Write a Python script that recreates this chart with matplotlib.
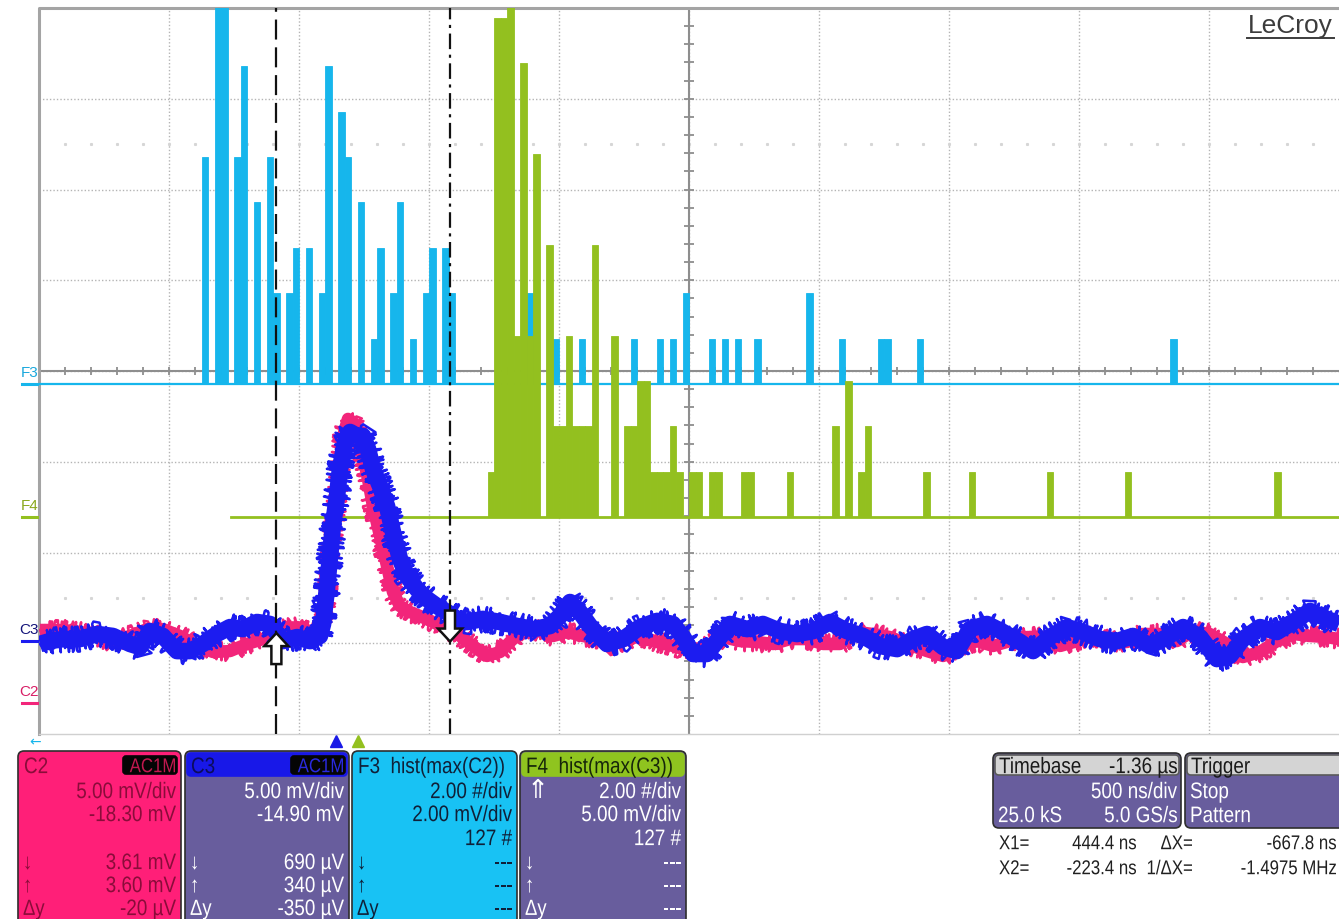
import matplotlib
matplotlib.use('Agg')
import matplotlib.pyplot as plt
from matplotlib.patches import FancyBboxPatch, PathPatch, Polygon
from matplotlib.textpath import TextPath
from matplotlib.font_manager import FontProperties
from matplotlib.transforms import Affine2D
import numpy as np

plt.rcParams['font.family'] = ['Liberation Sans', 'DejaVu Sans']

# scope settings
ns_per_div = 500.0
t_left = -1136.4                    # ns at the left edge of the grid
c2_scale, c2_offset = 5.0, -18.30   # mV/div, mV
c3_scale, c3_offset = 5.0, -14.90
f3_vscale, f3_hscale, f3_bin = 2.0, 2.0, 0.10   # #/div, mV/div, mV
f4_vscale, f4_hscale, f4_bin = 2.0, 5.0, 0.25
cursor_x1 = 444.4    # ns
cursor_x2 = -223.4   # ns

# C2 trace (pink)
c2_t = [-1133, -1044, -979, -913, -852, -786, -721, -660, -594, -529, -467, -402, -336, -275,
        -209, -144, -83, -56, -44, -29, -6, 10, 21, 33, 52, 71, 91, 110, 129, 148, 175, 202,
        225, 252, 291, 329, 379, 433, 483, 533, 587, 637, 675, 714, 764, 841, 894, 956, 1021,
        1048, 1110, 1175, 1241, 1302, 1367, 1433, 1494, 1560, 1625, 1687, 1752, 1817, 1879,
        1944, 2010, 2071, 2137, 2202, 2279, 2341, 2406, 2471, 2533, 2598, 2664, 2725, 2791,
        2856, 2917, 2983, 3048, 3110, 3175, 3240, 3302, 3367, 3433, 3494, 3560, 3625, 3687,
        3752, 3817, 3864]
c2_mv = [4.03, 4.03, 3.92, 3.70, 3.37, 3.70, 4.08, 4.08, 3.70, 3.15, 2.82, 2.87, 3.26, 3.53,
         4.08, 4.19, 3.92, 4.08, 4.36, 5.74, 9.43, 11.25, 13.07, 14.72, 15.66, 15.49, 14.94,
         13.62, 12.35, 10.86, 9.21, 7.56, 6.12, 5.35, 5.02, 4.80, 4.47, 4.08, 3.70, 3.15, 2.60,
         2.82, 3.37, 3.92, 4.08, 3.70, 3.92, 3.70, 3.53, 3.15, 3.42, 3.70, 3.37, 3.15, 2.87,
         3.15, 3.64, 3.42, 3.37, 3.26, 3.53, 3.53, 3.26, 3.26, 3.92, 3.81, 3.64, 3.26, 2.87,
         2.60, 3.15, 3.42, 3.15, 3.42, 3.64, 3.64, 3.15, 3.42, 3.70, 3.42, 3.37, 3.81, 3.81,
         3.42, 3.97, 3.81, 3.26, 2.54, 2.82, 3.42, 3.81, 3.70, 3.64, 3.53]

# C3 trace (blue)
c3_t = [-1133, -1094, -1044, -979, -913, -852, -786, -748, -710, -660, -606, -556, -506, -452,
        -402, -352, -298, -248, -198, -144, -94, -56, -44, -29, -17, -6, 10, 21, 41, 60, 87,
        110, 129, 148, 175, 202, 225, 252, 279, 317, 356, 394, 433, 471, 510, 571, 637, 702,
        764, 829, 867, 906, 944, 983, 1048, 1110, 1175, 1241, 1302, 1341, 1379, 1433, 1471,
        1521, 1587, 1648, 1714, 1779, 1841, 1906, 1971, 2033, 2098, 2164, 2225, 2279, 2341,
        2394, 2444, 2510, 2571, 2637, 2687, 2752, 2817, 2879, 2944, 3010, 3071, 3137, 3202,
        3264, 3329, 3394, 3444, 3494, 3560, 3625, 3687, 3752, 3817, 3864]
c3_mv = [-0.14, 0.02, 0.13, 0.13, 0.41, 0.30, -0.14, -0.31, 0.57, 0.30, -0.53, -0.53, -0.14,
         0.41, 0.79, 0.68, 1.07, 0.96, 0.02, 0.24, 0.02, 0.30, 0.96, 2.89, 4.71, 6.36, 8.01,
         9.50, 10.99, 11.54, 11.32, 11.32, 10.60, 9.50, 8.56, 7.46, 6.03, 4.54, 3.60, 2.89,
         2.34, 1.95, 1.62, 1.24, 1.07, 1.24, 1.07, 0.85, 0.68, 0.85, 1.40, 2.17, 1.62, 0.85,
         -0.14, 0.13, 0.79, 1.13, 0.96, 0.24, -0.69, -0.69, 0.02, 0.96, 0.68, 0.96, 0.57, 0.41,
         0.57, 1.07, 0.57, 0.30, -0.25, -0.42, 0.13, 0.41, -0.31, -0.53, 0.68, 0.96, 0.52,
         -0.03, -0.53, 0.24, 0.79, 0.52, 0.13, 0.02, 0.30, -0.25, 0.24, 0.79, 0.24, -0.97,
         -0.80, 0.13, 0.79, 0.52, 1.07, 1.68, 1.24, 0.96]

# F3 = hist(max(C2)): bin left edge (mV) and count
f3_bins = [2.5, 2.7, 2.8, 3.0, 3.1, 3.3, 3.5, 3.6, 3.8, 3.9, 4.1, 4.3, 4.4, 4.6, 4.7, 4.9, 5.1,
           5.2, 5.4, 5.5, 5.7, 5.9, 6.0, 6.2, 6.3, 7.5, 7.9, 8.3, 9.1, 9.5, 9.7, 9.9, 10.3,
           10.5, 10.7, 11.0, 11.8, 12.3, 12.9, 13.0, 13.5, 17.4]
f3_counts = [5, 13, 13, 5, 7, 4, 5, 2, 2, 3, 3, 2, 7, 6, 5, 4, 1, 3, 2, 4, 1, 2, 3, 3, 2,
             2, 1, 1, 1, 1, 1, 2, 1, 1, 1, 1, 2, 1, 1, 1, 1, 1]

# F4 = hist(max(C3))
f4_bins = [17.25, 17.5, 17.75, 18.0, 18.25, 18.5, 18.75, 19.0, 19.5, 19.75, 20.0, 20.25, 20.5,
           20.75, 21.0, 21.25, 22.0, 22.5, 22.75, 23.0, 23.25, 23.5, 23.75, 24.0, 24.25, 24.5,
           25.0, 25.25, 25.75, 26.0, 27.0, 27.25, 28.75, 30.5, 31.0, 31.5, 31.75, 34.0, 35.75,
           38.75, 41.75, 47.5]
f4_counts = [1, 11, 11, 12, 4, 10, 4, 8, 6, 2, 2, 4, 2, 2, 2, 6, 4, 2, 2, 3, 3, 1, 1, 1, 2, 1,
             1, 1, 1, 1, 1, 1, 1, 2, 3, 1, 2, 1, 1, 1, 1, 1]
f4_start_mv = 7.4

# where the histogram traces sit on screen (divisions from the bottom)
f3_pos = 3.857
f4_pos = 2.391

pink = '#f2257a'
blue = '#1c1cf0'
cyan = '#16b6ec'
green = '#93c01f'
slate = '#685d9d'

fig = plt.figure(figsize=(13.39, 9.2), dpi=100)
ov = fig.add_axes([0, 0, 1, 1])
ov.set_xlim(0, 1339)
ov.set_ylim(920, 0)
ov.axis('off')

ax = fig.add_axes([39 / 1339, 185 / 920, 1300 / 1339, 726 / 920])
ax.set_xlim(0, 10)
ax.set_ylim(0, 8)
ax.axis('off')
ax.patch.set_alpha(0)
px_x, px_y = 130.0, 90.75   # pixels per division

# graticule
grid_c = '#b4b4b4'
for i in range(1, 10):
    ax.axvline(i, color=grid_c, lw=1, ls=(0, (1, 1.5)), zorder=1)
for j in range(1, 8):
    ax.axhline(j, color=grid_c, lw=1, ls=(0, (1, 1.5)), zorder=1)
dots = np.arange(0.2, 10, 0.2)
for yy in (6.5, 1.5):
    ax.plot(dots, np.full_like(dots, yy), ls='none', marker='s', ms=1.2, color='#d6d6d6', zorder=1)
axis_c = '#8e8e8e'
ax.axvline(5, color=axis_c, lw=1.5, zorder=1.5)
ax.axhline(4, color=axis_c, lw=1.5, zorder=1.5)
ax.vlines(dots, 4 - 0.045, 4 + 0.045, color=axis_c, lw=1.3, zorder=1.5)
ticks_y = np.arange(0.2, 8, 0.2)
ax.hlines(ticks_y, 5 - 0.035, 5 + 0.035, color=axis_c, lw=1.3, zorder=1.5)
ax.plot([0, 0, 10], [0, 8, 8], color='#a4a4a4', lw=2.2, zorder=1.6, clip_on=False)
ax.plot([0, 10], [0, 0], color='#d0d0d0', lw=1, zorder=1.6, clip_on=False)

# histograms
def hist_bars(bins, counts, width, hscale, vscale, pos, color, z):
    x = np.asarray(bins) / hscale
    h = np.asarray(counts) / vscale
    ax.bar(x, h, width=width / hscale, bottom=pos, align='edge', color=color,
           edgecolor=color, lw=0.6, zorder=z)

hist_bars(f3_bins, f3_counts, f3_bin, f3_hscale, f3_vscale, f3_pos, cyan, 2)
ax.axhline(f3_pos, color=cyan, lw=1.6, zorder=2)
hist_bars(f4_bins, f4_counts, f4_bin, f4_hscale, f4_vscale, f4_pos, green, 3)
ax.plot([f4_start_mv / f4_hscale, 10], [f4_pos, f4_pos], color=green, lw=2, zorder=3)

# waveforms
def screen_xy(t, mv, scale, offset):
    x = (np.asarray(t) - t_left) / ns_per_div
    y = 4 + (np.asarray(mv) + offset) / scale
    return x, y

x2, y2 = screen_xy(c2_t, c2_mv, c2_scale, c2_offset)
x3, y3 = screen_xy(c3_t, c3_mv, c3_scale, c3_offset)

for x, y, col, core, hair, z in [(x2, y2, pink, 9, 10, 4), (x3, y3, blue, 12, 13, 5)]:
    ax.plot(x, y, color=col, lw=core, solid_joinstyle='round', solid_capstyle='butt', zorder=z)
    ln, = ax.plot(x, y, color=col, lw=1.8, zorder=z)
    ln.set_sketch_params(scale=hair, length=2.5, randomness=12)

# cursors
cx1 = (cursor_x1 - t_left) / ns_per_div
cx2 = (cursor_x2 - t_left) / ns_per_div
ax.axvline(cx2, color='#111111', lw=1.6, ls=(0, (9, 3.5)), zorder=7)
ax.axvline(cx1, color='#111111', lw=1.6, ls=(0, (7, 2.5, 1.4, 2.5)), zorder=7)

def cursor_arrow(xc, ytip, up):
    shape = [(0, 0), (12, 13), (5, 13), (5, 31), (-5, 31), (-5, 13), (-12, 13)]
    sgn = -1 if up else 1
    pts = [(xc + dx / px_x, ytip + sgn * dy / px_y) for dx, dy in shape]
    ax.add_patch(Polygon(pts, closed=True, fc='white', ec='#111111', lw=1.8, zorder=8))

cursor_arrow(cx2, np.interp(cx2, x2, y2) - 0.02, up=True)
cursor_arrow(cx1, np.interp(cx1, x2, y2) - 0.12, up=False)

# channel markers at the left edge
markers = [('F3', f3_pos, cyan, '#1aa8dc'),
           ('F4', f4_pos, green, '#8aa81c'),
           ('C3', 4 + c3_offset / c3_scale, blue, '#14147a'),
           ('C2', 4 + c2_offset / c2_scale, pink, '#d81e66')]
for name, yy, col, tcol in markers:
    ax.plot([-0.13, -0.012], [yy, yy], color=col, lw=2.2, clip_on=False, zorder=3)
    ax.text(-0.075, yy + 0.06, name, ha='center', va='bottom', fontsize=11, color=tcol,
            clip_on=False)

ov.text(1290, 26, 'LeCroy', ha='center', va='center', fontsize=19, color='#3c3c3c')
ov.plot([1247, 1334], [39, 39], color='#3c3c3c', lw=1.4)

ov.text(35, 742, '\u2190', ha='center', va='center', fontsize=10, color=cyan,
        family='DejaVu Sans')
ov.plot([336], [742], marker='^', ms=8, color='#1a1ae6', ls='none')
ov.plot([358], [742], marker='^', ms=8, color=green, ls='none')

# narrow text like the scope's panel font (Liberation Sans squeezed horizontally)
panel_font = FontProperties(family='Liberation Sans')

def ntext(x, y, s, color, ha='left', size=22.5, squeeze=0.84, z=3):
    tp = TextPath((0, 0), s, size=size, prop=panel_font)
    ext = tp.get_extents()
    if ha == 'right':
        x0 = x - ext.x1 * squeeze
    elif ha == 'center':
        x0 = x - (ext.x0 + ext.x1) / 2 * squeeze
    else:
        x0 = x
    tr = Affine2D().scale(squeeze, -1).translate(x0, y + 0.36 * size)
    ov.add_patch(PathPatch(tr.transform_path(tp), fc=color, ec='none', lw=0, zorder=z))

# info panels
def box(x0, y0, x1, y1, fc, ec='#2e2e2e', r=6, lw=1.2, z=1):
    ov.add_patch(FancyBboxPatch((x0, y0), x1 - x0, y1 - y0,
                                boxstyle=f'round,pad=0,rounding_size={r}',
                                fc=fc, ec=ec, lw=lw, zorder=z))

rows = [791, 814, 838, 862, 885, 908]

def channel_panel(x0, x1, face, head_face, head_text, head_col, txt_col, values, ac=None):
    box(x0, 752, x1, 935, face)
    if head_face is not None:
        box(x0 + 2, 754, x1 - 2, 777, head_face, ec=head_face, r=4, z=2)
    ntext(x0 + 6, 766, head_text, head_col)
    if ac is not None:
        box(x1 - 58, 757, x1 - 4, 775, '#050505', ec='#050505', r=3, z=3)
        ntext(x1 - 6, 766, 'AC1M', ac, ha='right', size=20, z=4)
    for yy, v in zip(rows, values):
        if v:
            ntext(x1 - 5, yy, v, txt_col, ha='right')
    for yy, s in zip(rows[3:], ['\u2193', '\u2191', '\u0394y']):
        ntext(x0 + 5, yy, s, txt_col, size=22)

channel_panel(18, 181, '#ff1f78', None, 'C2', '#8a0c3a', '#8a0c3a',
              ['5.00 mV/div', '-18.30 mV', '', '3.61 mV', '3.60 mV', '-20 \u00b5V'], ac='#c2184f')
channel_panel(185, 349, slate, '#1818e8', 'C3', '#0c0c5c', 'white',
              ['5.00 mV/div', '-14.90 mV', '', '690 \u00b5V', '340 \u00b5V', '-350 \u00b5V'], ac='#2a2ae0')
channel_panel(352, 517, '#18c2f4', None, 'F3  hist(max(C2))', '#102038', '#102038',
              ['2.00 #/div', '2.00 mV/div', '127 #', '---', '---', '---'])
channel_panel(520, 686, slate, '#8fc41f', 'F4  hist(max(C3))', '#16260a', 'white',
              ['2.00 #/div', '5.00 mV/div', '127 #', '---', '---', '---'])
ov.text(527, 791, '\u21d1', ha='left', va='center', fontsize=19, color='white',
        family='DejaVu Sans', zorder=3)

# timebase / trigger
box(993, 754, 1181, 829, slate)
box(995, 756, 1179, 776, '#d4d4d4', ec='#5a5a5a', r=4, z=2)
ntext(999, 766, 'Timebase', '#1a1a1a')
ntext(1177, 766, '-1.36 \u00b5s', '#1a1a1a', ha='right')
ntext(1177, 791, '500 ns/div', 'white', ha='right')
ntext(998, 815, '25.0 kS', 'white')
ntext(1177, 815, '5.0 GS/s', 'white', ha='right')

box(1185, 754, 1350, 829, slate)
box(1187, 756, 1348, 776, '#d4d4d4', ec='#5a5a5a', r=4, z=2)
ntext(1191, 766, 'Trigger', '#1a1a1a')
ntext(1190, 791, 'Stop', 'white')
ntext(1190, 815, 'Pattern', 'white')

# cursor readout
dx = cursor_x1 - cursor_x2
readout = [(843, 'X1=', f'{cursor_x1:.1f} ns', '\u0394X=', f'{-dx:.1f} ns'),
           (868, 'X2=', f'{cursor_x2:.1f} ns', '1/\u0394X=', f'{1e3 / -dx:.4f} MHz')]
for yy, a, b, c, d in readout:
    ntext(999, yy, a, '#202020', size=20)
    ntext(1136, yy, b, '#202020', ha='right', size=20)
    ntext(1192, yy, c, '#202020', ha='right', size=20)
    ntext(1336, yy, d, '#202020', ha='right', size=20)

fig.savefig('out.png', dpi=100)
